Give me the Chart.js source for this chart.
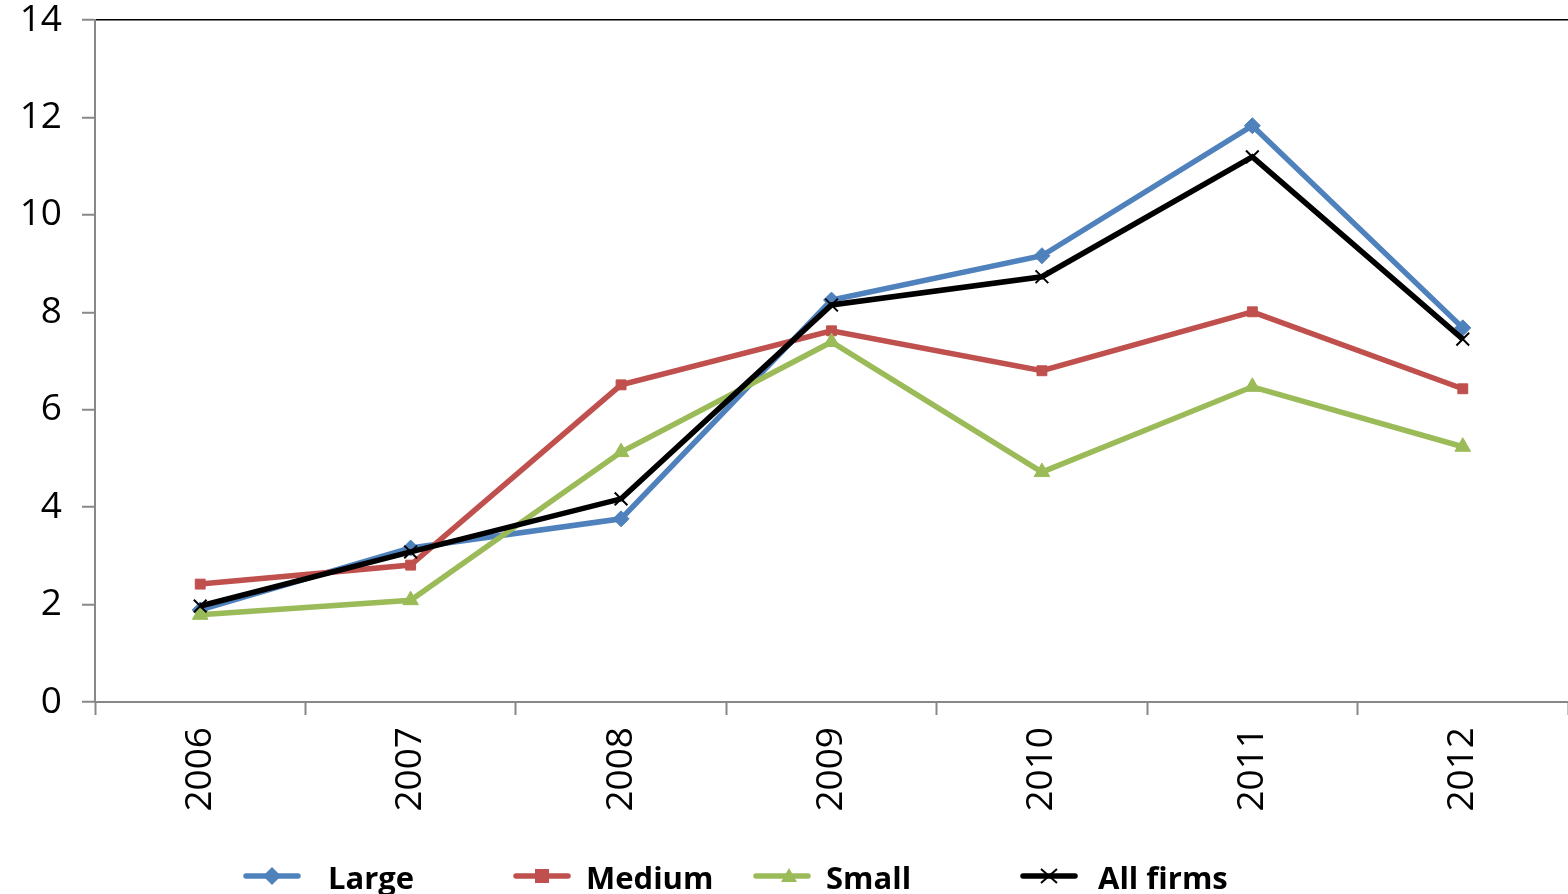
<!DOCTYPE html>
<html>
<head>
<meta charset="utf-8">
<script src="https://cdn.jsdelivr.net/npm/chart.js@4/dist/chart.umd.min.js"></script>
<style>
	body { margin: 0; background: #fff; }
	#wrap { position: relative; width: 1568px; height: 894px; overflow: hidden; }
	#legend { position: absolute; left: 0; top: 0; width: 1568px; height: 894px; pointer-events: none; }
	.item { position: absolute; top: 856px; height: 44px; font-family: "Open Sans", sans-serif; font-weight: bold; font-size: 31px; color: #000; white-space: nowrap; }
	.item svg { position: absolute; top: 10px; }
	.item span { position: absolute; top: 0px; }
</style>
</head>
<body>
<div id="wrap">
	<canvas id="chart-area" width="1568" height="894"></canvas>
	<div id="legend"></div>
</div>
<script>
var years = ['2006', '2007', '2008', '2009', '2010', '2011', '2012'];
var large = [1.89, 3.16, 3.76, 8.25, 9.16, 11.83, 7.68];
var medium = [2.42, 2.81, 6.51, 7.62, 6.80, 8.01, 6.43];
var small = [1.79, 2.09, 5.13, 7.39, 4.72, 6.47, 5.24];
var allFirms = [1.97, 3.08, 4.17, 8.15, 8.73, 11.19, 7.45];
var seriesNames = ['Large', 'Medium', 'Small', 'All firms'];

var colors = {
	blue: '#4F81BD',
	red: '#C0504D',
	green: '#9BBB59',
	black: '#000000'
};

var config = {
	type: 'line',
	data: {
		labels: years,
		datasets: [{
			label: seriesNames[0],
			data: large,
			borderColor: colors.blue,
			backgroundColor: colors.blue,
			pointStyle: 'rectRot',
			pointRadius: 8,
			order: 4
		}, {
			label: seriesNames[1],
			data: medium,
			borderColor: colors.red,
			backgroundColor: colors.red,
			pointStyle: 'rect',
			pointRadius: 7,
			order: 3
		}, {
			label: seriesNames[2],
			data: small,
			borderColor: colors.green,
			backgroundColor: colors.green,
			pointStyle: 'triangle',
			pointRadius: 9,
			order: 2
		}, {
			label: seriesNames[3],
			data: allFirms,
			borderColor: colors.black,
			backgroundColor: colors.black,
			pointStyle: 'crossRot',
			pointRadius: 9,
			pointBorderWidth: 2,
			order: 1
		}]
	},
	options: {
		responsive: false,
		animation: false,
		events: [],
		layout: { autoPadding: false, padding: { top: 20, right: 0, bottom: 0, left: 0 } },
		elements: {
			line: { borderWidth: 5.5, tension: 0 },
			point: { borderWidth: 1 }
		},
		plugins: {
			legend: { display: false },
			tooltip: { enabled: false }
		},
		scales: {
			x: {
				offset: true,
				afterFit: function(s){ s.height = 192; s.paddingLeft = 0; s.paddingRight = 0; },
				grid: {
					offset: true,
					drawOnChartArea: false,
					tickColor: '#888',
					tickLength: 13,
					tickWidth: 2
				},
				border: { color: '#888', width: 2 },
				ticks: {
					autoSkip: false,
					minRotation: 90,
					maxRotation: 90,
					padding: 12,
					color: '#000',
					font: { family: 'Open Sans', size: 37 }
				}
			},
			y: {
				min: 0,
				max: 14,
				afterFit: function(s){ s.width = 95; s.paddingTop = 0; s.paddingBottom = 0; },
				grid: {
					color: function(ctx){ return ctx.tick && ctx.tick.value === 14 ? '#000' : 'rgba(0,0,0,0)'; },
					lineWidth: 1.5,
					tickColor: '#888',
					tickLength: 13,
					tickWidth: 2
				},
				border: { color: '#888', width: 2 },
				ticks: {
					stepSize: 2,
					padding: 20,
					color: '#000',
					font: { family: 'Open Sans', size: 37 }
				}
			}
		}
	}
};

var ctx = document.getElementById('chart-area').getContext('2d');
window.myLine = new Chart(ctx, config);

// legend like the excel one, items with equal slots
var marks = [
	'<polygon points="29,1 38,10 29,19 20,10" fill="' + colors.blue + '"/>',
	'<rect x="22" y="3" width="14" height="14" fill="' + colors.red + '"/>',
	'<polygon points="36,2 44,16 28,16" fill="' + colors.green + '"/>',
	'<path d="M21,3 L37,17 M37,3 L21,17" stroke="#000" stroke-width="2"/>'
];
var strokes = [colors.blue, colors.red, colors.green, colors.black];
var lefts = [243, 513, 753, 1020];
var textLeft = [85, 73, 73, 78];
var html = '';
for (var i in seriesNames) {
	html += '<div class="item" style="left:' + lefts[i] + 'px">' +
		'<svg width="60" height="20"><line x1="3" y1="10" x2="55" y2="10" stroke="' + strokes[i] + '" stroke-width="5.5" stroke-linecap="round"/>' + marks[i] + '</svg>' +
		'<span style="left:' + textLeft[i] + 'px">' + seriesNames[i] + '</span></div>';
}
document.getElementById('legend').innerHTML = html;
</script>
</body>
</html>
